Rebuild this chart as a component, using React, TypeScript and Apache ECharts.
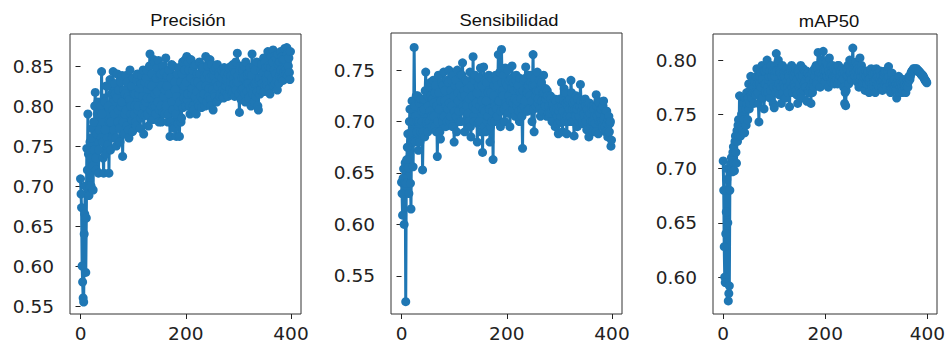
import React, { useEffect, useRef } from "react";
import * as echarts from "echarts";

const titles = ["Precisión", "Sensibilidad", "mAP50"];
const xTicks = [0, 200, 400];
const yTicksPrec = [0.55, 0.6, 0.65, 0.7, 0.75, 0.8, 0.85];
const yTicksSens = [0.55, 0.6, 0.65, 0.7, 0.75];
const yTicksMap = [0.6, 0.65, 0.7, 0.75, 0.8];

// values at even epochs (0, 2, ..., 398)
const precisionEven = [
  0.709, 0.673, 0.580, 0.555, 0.665, 0.592, 0.747, 0.790, 0.688, 0.755,
  0.700, 0.772, 0.695, 0.745, 0.817, 0.720, 0.790, 0.716, 0.770, 0.800,
  0.843, 0.755, 0.716, 0.805, 0.740, 0.825, 0.752, 0.716, 0.833, 0.780,
  0.760, 0.843, 0.790, 0.815, 0.750, 0.840, 0.795, 0.772, 0.830, 0.805,
  0.737, 0.820, 0.790, 0.838, 0.775, 0.812, 0.760, 0.845, 0.800, 0.782,
  0.835, 0.790, 0.815, 0.775, 0.840, 0.800, 0.822, 0.785, 0.838, 0.812,
  0.765, 0.830, 0.805, 0.845, 0.790, 0.827, 0.865, 0.810, 0.840, 0.783,
  0.855, 0.800, 0.835, 0.818, 0.857, 0.795, 0.840, 0.780, 0.850, 0.812,
  0.790, 0.860, 0.825, 0.780, 0.845, 0.762, 0.835, 0.805, 0.850, 0.772,
  0.820, 0.762, 0.840, 0.800, 0.762, 0.830, 0.785, 0.855, 0.810, 0.845,
  0.800, 0.862, 0.815, 0.845, 0.790, 0.858, 0.822, 0.800, 0.850, 0.812,
  0.790, 0.840, 0.805, 0.855, 0.825, 0.798, 0.848, 0.815, 0.835, 0.862,
  0.805, 0.850, 0.822, 0.858, 0.800, 0.838, 0.795, 0.845, 0.812, 0.830,
  0.852, 0.808, 0.838, 0.815, 0.845, 0.820, 0.810, 0.840, 0.825, 0.835,
  0.812, 0.848, 0.822, 0.838, 0.815, 0.852, 0.828, 0.842, 0.820, 0.866,
  0.830, 0.792, 0.850, 0.820, 0.845, 0.835, 0.815, 0.855, 0.828, 0.840,
  0.810, 0.848, 0.800, 0.865, 0.825, 0.805, 0.845, 0.830, 0.818, 0.795,
  0.835, 0.820, 0.852, 0.838, 0.860, 0.825, 0.848, 0.832, 0.868, 0.840,
  0.815, 0.862, 0.835, 0.870, 0.845, 0.828, 0.860, 0.820, 0.852, 0.838,
  0.868, 0.835, 0.858, 0.842, 0.872, 0.845, 0.873, 0.838, 0.860, 0.833,
];
// values at odd epochs (1, 3, ..., 399)
const precisionOdd = [
  0.690, 0.600, 0.560, 0.640, 0.700, 0.660, 0.720, 0.740, 0.700, 0.735,
  0.760, 0.725, 0.780, 0.800, 0.735, 0.765, 0.805, 0.745, 0.795, 0.760,
  0.790, 0.735, 0.810, 0.770, 0.825, 0.760, 0.800, 0.780, 0.745, 0.815,
  0.795, 0.770, 0.828, 0.760, 0.810, 0.780, 0.820, 0.755, 0.800, 0.838,
  0.780, 0.765, 0.815, 0.795, 0.830, 0.770, 0.808, 0.790, 0.825, 0.768,
  0.815, 0.800, 0.780, 0.832, 0.795, 0.815, 0.772, 0.828, 0.790, 0.845,
  0.800, 0.788, 0.835, 0.810, 0.775, 0.850, 0.795, 0.825, 0.800, 0.858,
  0.815, 0.790, 0.848, 0.805, 0.780, 0.838, 0.800, 0.825, 0.792, 0.842,
  0.820, 0.800, 0.838, 0.790, 0.815, 0.780, 0.852, 0.795, 0.775, 0.830,
  0.790, 0.812, 0.778, 0.848, 0.805, 0.780, 0.840, 0.798, 0.825, 0.858,
  0.830, 0.808, 0.855, 0.800, 0.835, 0.815, 0.845, 0.795, 0.830, 0.852,
  0.818, 0.830, 0.800, 0.840, 0.812, 0.850, 0.808, 0.838, 0.800, 0.825,
  0.840, 0.812, 0.835, 0.808, 0.852, 0.820, 0.838, 0.815, 0.848, 0.805,
  0.825, 0.842, 0.812, 0.828, 0.835, 0.812, 0.848, 0.818, 0.832, 0.815,
  0.840, 0.820, 0.830, 0.850, 0.818, 0.835, 0.812, 0.855, 0.830, 0.838,
  0.815, 0.845, 0.808, 0.835, 0.822, 0.850, 0.805, 0.838, 0.818, 0.828,
  0.842, 0.822, 0.838, 0.815, 0.850, 0.828, 0.812, 0.855, 0.800, 0.832,
  0.815, 0.845, 0.828, 0.842, 0.818, 0.855, 0.835, 0.825, 0.850, 0.822,
  0.848, 0.830, 0.855, 0.825, 0.862, 0.840, 0.832, 0.865, 0.828, 0.855,
  0.845, 0.862, 0.832, 0.858, 0.848, 0.840, 0.865, 0.850, 0.842, 0.868,
];

const sensitivityEven = [
  0.641, 0.609, 0.654, 0.640, 0.525, 0.663, 0.688, 0.630, 0.712, 0.615,
  0.720, 0.656, 0.772, 0.680, 0.725, 0.700, 0.672, 0.718, 0.690, 0.710,
  0.653, 0.722, 0.685, 0.748, 0.700, 0.690, 0.735, 0.710, 0.725, 0.695,
  0.740, 0.705, 0.728, 0.690, 0.666, 0.745, 0.712, 0.683, 0.738, 0.700,
  0.748, 0.720, 0.695, 0.740, 0.712, 0.750, 0.700, 0.730, 0.715, 0.745,
  0.680, 0.735, 0.705, 0.750, 0.720, 0.700, 0.745, 0.725, 0.757, 0.710,
  0.690, 0.740, 0.715, 0.732, 0.700, 0.748, 0.685, 0.725, 0.763, 0.700,
  0.745, 0.718, 0.680, 0.735, 0.700, 0.752, 0.720, 0.670, 0.753, 0.710,
  0.690, 0.738, 0.705, 0.745, 0.680, 0.728, 0.700, 0.663, 0.735, 0.715,
  0.740, 0.705, 0.765, 0.720, 0.695, 0.770, 0.730, 0.745, 0.700, 0.738,
  0.715, 0.750, 0.725, 0.695, 0.742, 0.754, 0.718, 0.730, 0.705, 0.745,
  0.720, 0.735, 0.700, 0.728, 0.712, 0.674, 0.740, 0.720, 0.753, 0.730,
  0.710, 0.745, 0.725, 0.738, 0.700, 0.765, 0.690, 0.735, 0.715, 0.748,
  0.722, 0.740, 0.705, 0.738, 0.728, 0.745, 0.718, 0.732, 0.705, 0.725,
  0.715, 0.708, 0.722, 0.700, 0.718, 0.712, 0.695, 0.720, 0.705, 0.688,
  0.715, 0.700, 0.738, 0.690, 0.720, 0.705, 0.728, 0.688, 0.715, 0.700,
  0.722, 0.740, 0.700, 0.718, 0.686, 0.712, 0.725, 0.695, 0.715, 0.705,
  0.736, 0.710, 0.698, 0.720, 0.705, 0.715, 0.692, 0.718, 0.685, 0.708,
  0.700, 0.715, 0.690, 0.712, 0.698, 0.726, 0.705, 0.688, 0.718, 0.700,
  0.712, 0.695, 0.720, 0.705, 0.690, 0.710, 0.685, 0.705, 0.698, 0.676,
];
const sensitivityOdd = [
  0.630, 0.645, 0.600, 0.660, 0.640, 0.675, 0.655, 0.700, 0.640, 0.690,
  0.680, 0.700, 0.715, 0.705, 0.690, 0.725, 0.700, 0.680, 0.722, 0.700,
  0.690, 0.712, 0.730, 0.698, 0.725, 0.715, 0.700, 0.738, 0.705, 0.722,
  0.718, 0.695, 0.735, 0.715, 0.700, 0.728, 0.690, 0.720, 0.705, 0.735,
  0.705, 0.730, 0.715, 0.700, 0.738, 0.718, 0.705, 0.740, 0.695, 0.725,
  0.710, 0.740, 0.690, 0.728, 0.710, 0.735, 0.700, 0.745, 0.715, 0.730,
  0.725, 0.700, 0.738, 0.708, 0.722, 0.695, 0.735, 0.715, 0.705, 0.740,
  0.712, 0.728, 0.698, 0.742, 0.715, 0.690, 0.735, 0.712, 0.695, 0.740,
  0.720, 0.700, 0.728, 0.712, 0.695, 0.742, 0.710, 0.725, 0.700, 0.745,
  0.712, 0.735, 0.720, 0.748, 0.710, 0.738, 0.725, 0.712, 0.752, 0.718,
  0.735, 0.708, 0.740, 0.720, 0.732, 0.712, 0.738, 0.722, 0.740, 0.715,
  0.732, 0.710, 0.742, 0.722, 0.705, 0.730, 0.715, 0.742, 0.710, 0.728,
  0.735, 0.712, 0.745, 0.720, 0.735, 0.712, 0.742, 0.725, 0.730, 0.718,
  0.730, 0.712, 0.735, 0.720, 0.710, 0.728, 0.715, 0.722, 0.730, 0.708,
  0.705, 0.725, 0.712, 0.715, 0.700, 0.722, 0.708, 0.712, 0.698, 0.710,
  0.722, 0.705, 0.715, 0.710, 0.732, 0.700, 0.718, 0.705, 0.720, 0.712,
  0.705, 0.728, 0.712, 0.700, 0.720, 0.705, 0.712, 0.722, 0.700, 0.715,
  0.720, 0.700, 0.715, 0.708, 0.722, 0.700, 0.712, 0.705, 0.718, 0.698,
  0.712, 0.700, 0.715, 0.705, 0.690, 0.715, 0.720, 0.700, 0.708, 0.712,
  0.700, 0.715, 0.702, 0.695, 0.710, 0.698, 0.702, 0.690, 0.700, 0.682,
];

const map50Even = [
  0.707, 0.628, 0.595, 0.660, 0.700, 0.578, 0.592, 0.700, 0.710, 0.697,
  0.720, 0.698, 0.730, 0.705, 0.725, 0.745, 0.767, 0.730, 0.750, 0.735,
  0.760, 0.733, 0.755, 0.770, 0.745, 0.778, 0.760, 0.785, 0.765, 0.775,
  0.760, 0.780, 0.768, 0.792, 0.770, 0.743, 0.785, 0.775, 0.795, 0.765,
  0.755, 0.790, 0.778, 0.800, 0.770, 0.785, 0.765, 0.795, 0.778, 0.760,
  0.756, 0.790, 0.806, 0.775, 0.800, 0.768, 0.788, 0.760, 0.795, 0.778,
  0.785, 0.765, 0.792, 0.775, 0.788, 0.757, 0.780, 0.795, 0.770, 0.785,
  0.775, 0.792, 0.768, 0.760, 0.788, 0.778, 0.795, 0.765, 0.785, 0.772,
  0.790, 0.775, 0.762, 0.788, 0.770, 0.782, 0.760, 0.778, 0.790, 0.775,
  0.785, 0.795, 0.778, 0.807, 0.788, 0.775, 0.800, 0.782, 0.808, 0.790,
  0.780, 0.798, 0.785, 0.775, 0.802, 0.788, 0.780, 0.795, 0.785, 0.778,
  0.792, 0.782, 0.778, 0.795, 0.785, 0.790, 0.780, 0.788, 0.775, 0.760,
  0.758, 0.785, 0.795, 0.778, 0.800, 0.790, 0.782, 0.811, 0.795, 0.785,
  0.798, 0.780, 0.792, 0.775, 0.802, 0.785, 0.790, 0.778, 0.788, 0.772,
  0.785, 0.778, 0.790, 0.770, 0.783, 0.792, 0.775, 0.788, 0.780, 0.770,
  0.792, 0.778, 0.785, 0.775, 0.790, 0.780, 0.772, 0.788, 0.778, 0.790,
  0.775, 0.785, 0.794, 0.778, 0.770, 0.786, 0.780, 0.775, 0.782, 0.772,
  0.765, 0.778, 0.785, 0.770, 0.780, 0.775, 0.772, 0.782, 0.778, 0.770,
  0.780, 0.775, 0.785, 0.782, 0.788, 0.790, 0.791, 0.792, 0.790, 0.792,
  0.791, 0.790, 0.789, 0.788, 0.787, 0.786, 0.785, 0.783, 0.781, 0.780,
];
const map50Odd = [
  0.680, 0.600, 0.640, 0.690, 0.650, 0.585, 0.680, 0.705, 0.700, 0.715,
  0.705, 0.725, 0.715, 0.735, 0.740, 0.730, 0.745, 0.740, 0.738, 0.755,
  0.745, 0.765, 0.740, 0.760, 0.765, 0.755, 0.772, 0.768, 0.780, 0.770,
  0.775, 0.770, 0.785, 0.778, 0.760, 0.778, 0.790, 0.765, 0.782, 0.790,
  0.778, 0.770, 0.792, 0.775, 0.782, 0.790, 0.772, 0.785, 0.790, 0.775,
  0.785, 0.770, 0.790, 0.798, 0.778, 0.790, 0.775, 0.785, 0.770, 0.788,
  0.775, 0.790, 0.780, 0.770, 0.785, 0.778, 0.790, 0.775, 0.788, 0.778,
  0.788, 0.772, 0.782, 0.790, 0.775, 0.785, 0.770, 0.782, 0.792, 0.778,
  0.780, 0.790, 0.785, 0.772, 0.785, 0.775, 0.788, 0.770, 0.780, 0.792,
  0.790, 0.780, 0.792, 0.785, 0.795, 0.788, 0.785, 0.798, 0.792, 0.785,
  0.790, 0.785, 0.795, 0.790, 0.785, 0.795, 0.788, 0.782, 0.792, 0.785,
  0.785, 0.790, 0.795, 0.782, 0.790, 0.785, 0.792, 0.782, 0.790, 0.770,
  0.772, 0.792, 0.785, 0.795, 0.788, 0.782, 0.798, 0.792, 0.788, 0.795,
  0.790, 0.795, 0.785, 0.790, 0.782, 0.795, 0.780, 0.785, 0.778, 0.790,
  0.778, 0.788, 0.782, 0.780, 0.790, 0.778, 0.785, 0.775, 0.788, 0.782,
  0.785, 0.788, 0.778, 0.782, 0.785, 0.775, 0.782, 0.785, 0.788, 0.780,
  0.782, 0.790, 0.785, 0.772, 0.780, 0.788, 0.778, 0.782, 0.775, 0.778,
  0.772, 0.782, 0.778, 0.775, 0.778, 0.770, 0.780, 0.776, 0.774, 0.776,
  0.778, 0.780, 0.783, 0.785, 0.789, 0.790, 0.792, 0.791, 0.791, 0.792,
  0.791, 0.790, 0.789, 0.788, 0.786, 0.786, 0.784, 0.782, 0.781, 0.779,
];

const BLUE = "#1f77b4";
const FONT = "DejaVu Sans";

function merge(even: number[], odd: number[]): number[][] {
  const out: number[][] = [];
  for (let k = 0; k < even.length; k++) {
    out.push([2 * k, even[k]]);
    if (k < odd.length) out.push([2 * k + 1, odd[k]]);
  }
  return out;
}

export default function App() {
  const ref = useRef<HTMLDivElement>(null);
  useEffect(() => {
    if (!ref.current) return;
    const chart = echarts.init(ref.current, undefined, { renderer: "svg" });
    const grids = [
      { left: 70, top: 34, width: 231, height: 281 },
      { left: 391, top: 33, width: 231, height: 282 },
      { left: 713, top: 34, width: 224, height: 281 },
    ];
    const yRanges = [
      { min: 0.54, max: 0.89, ticks: yTicksPrec },
      { min: 0.513, max: 0.786, ticks: yTicksSens },
      { min: 0.566, max: 0.824, ticks: yTicksMap },
    ];
    const seriesData = [
      merge(precisionEven, precisionOdd),
      merge(sensitivityEven, sensitivityOdd),
      merge(map50Even, map50Odd),
    ];
    const titleX = [188, 509, 829];
    const titleY = [20, 20, 21];

    const option: any = {
      animation: false,
      backgroundColor: "#ffffff",
      grid: grids.map((g) => ({
        ...g,
        show: true,
        borderColor: "#333",
        borderWidth: 1,
        backgroundColor: "transparent",
        containLabel: false,
      })),
      xAxis: grids.map((_, i) => ({
        type: "value",
        gridIndex: i,
        min: -20,
        max: 419,
        axisLine: { show: false },
        splitLine: { show: false },
        axisTick: {
          show: true,
          customValues: xTicks,
          length: 5,
          lineStyle: { color: "#222", width: 1 },
        },
        axisLabel: {
          customValues: xTicks,
          fontFamily: FONT,
          fontSize: 18.5,
          color: "#222",
          margin: 10,
        },
      })),
      yAxis: yRanges.map((r, i) => ({
        type: "value",
        gridIndex: i,
        min: r.min,
        max: r.max,
        axisLine: { show: false },
        splitLine: { show: false },
        axisTick: {
          show: true,
          customValues: r.ticks,
          length: 5,
          lineStyle: { color: "#222", width: 1 },
        },
        axisLabel: {
          customValues: r.ticks,
          formatter: (v: number) => v.toFixed(2),
          fontFamily: FONT,
          fontSize: 18.5,
          color: "#222",
          margin: 16,
        },
      })),
      series: seriesData.map((data, i) => ({
        type: "line",
        xAxisIndex: i,
        yAxisIndex: i,
        data,
        symbol: "circle",
        symbolSize: 9,
        showSymbol: true,
        showAllSymbol: true,
        lineStyle: { color: BLUE, width: 3 },
        itemStyle: { color: BLUE },
        clip: false,
      })),
      graphic: titles.map((t, i) => ({
        type: "text",
        x: titleX[i],
        y: titleY[i],
        scaleX: 1.15,
        style: {
          text: t,
          fontFamily: "Liberation Sans",
          fontSize: 16,
          fill: "#111",
          textAlign: "center",
          textVerticalAlign: "middle",
        },
      })),
    };
    chart.setOption(option);
    return () => chart.dispose();
  }, []);
  return (
    <div
      ref={ref}
      style={{ position: "fixed", left: 0, top: 0, width: 948, height: 343 }}
    />
  );
}
